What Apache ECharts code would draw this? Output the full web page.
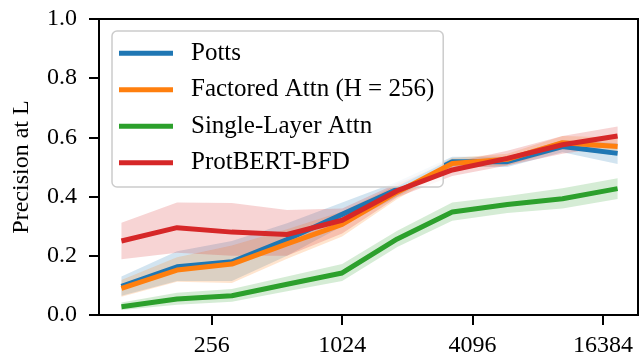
<!DOCTYPE html>
<html>
<head>
<meta charset="utf-8">
<script src="https://cdn.jsdelivr.net/npm/echarts@6/dist/echarts.min.js"></script>
<style>
  html, body { margin: 0; padding: 0; background: #fff; }
  #chart { width: 639px; height: 362px; }
</style>
</head>
<body>
<div id="chart"></div>
<script>
// number of contacts / training size on a log2 axis
const sizes = [98, 177, 317, 570, 1024, 1840, 3300, 5930, 10660, 19150];
const xTicks = [256, 1024, 4096, 16384];
const yTicks = [0, 0.2, 0.4, 0.6, 0.8, 1.0];

const names = ["Potts", "Factored Attn (H = 256)", "Single-Layer Attn", "ProtBERT-BFD"];
const colors = ["#1f77b4", "#ff7f0e", "#2ca02c", "#d62728"];
const bandFills = ["rgba(31,119,180,0.2)", "rgba(255,127,14,0.2)", "rgba(44,160,44,0.2)", "rgba(214,39,40,0.2)"];

const potts    = [0.097, 0.163, 0.180, 0.255, 0.340, 0.425, 0.518, 0.518, 0.569, 0.546];
const pottsLo  = [0.065, 0.115, 0.115, 0.200, 0.300, 0.400, 0.500, 0.500, 0.550, 0.510];
const pottsHi  = [0.130, 0.215, 0.250, 0.310, 0.380, 0.450, 0.535, 0.535, 0.590, 0.580];

const factored   = [0.090, 0.152, 0.172, 0.240, 0.306, 0.415, 0.512, 0.526, 0.582, 0.569];
const factoredLo = [0.062, 0.112, 0.108, 0.190, 0.265, 0.392, 0.495, 0.505, 0.560, 0.540];
const factoredHi = [0.118, 0.195, 0.235, 0.290, 0.350, 0.440, 0.530, 0.545, 0.605, 0.600];

const single   = [0.028, 0.054, 0.065, 0.104, 0.142, 0.257, 0.348, 0.373, 0.393, 0.427];
const singleLo = [0.017, 0.035, 0.045, 0.080, 0.115, 0.230, 0.318, 0.345, 0.360, 0.392];
const singleHi = [0.042, 0.075, 0.088, 0.130, 0.172, 0.285, 0.380, 0.402, 0.428, 0.462];

const protbert   = [0.250, 0.295, 0.280, 0.272, 0.320, 0.420, 0.490, 0.529, 0.575, 0.605];
const protbertLo = [0.188, 0.210, 0.200, 0.200, 0.275, 0.398, 0.470, 0.505, 0.545, 0.572];
const protbertHi = [0.312, 0.380, 0.378, 0.355, 0.360, 0.445, 0.515, 0.555, 0.605, 0.637];

const means = [potts, factored, single, protbert];
const lows = [pottsLo, factoredLo, singleLo, protbertLo];
const highs = [pottsHi, factoredHi, singleHi, protbertHi];

const FONT = "'Liberation Serif', 'Times New Roman', serif";

function bandSeries(i) {
  const lo = lows[i], hi = highs[i];
  return {
    name: names[i] + " band",
    type: "custom",
    silent: true,
    z: 1,
    data: sizes.map((x, k) => [x, lo[k], hi[k]]),
    encode: { x: 0, y: [1, 2] },
    renderItem(params, api) {
      if (params.dataIndex !== 0) return;
      const top = sizes.map((x, k) => api.coord([x, hi[k]]));
      const bottom = sizes.map((x, k) => api.coord([x, lo[k]])).reverse();
      return {
        type: "polygon",
        shape: { points: top.concat(bottom) },
        style: { fill: bandFills[i], stroke: null },
      };
    },
  };
}

function lineSeries(i) {
  return {
    name: names[i],
    type: "line",
    z: 3 + i,
    symbol: "none",
    showSymbol: false,
    data: sizes.map((x, k) => [x, means[i][k]]),
    lineStyle: { width: 5, color: colors[i], join: "round" },
    itemStyle: { color: colors[i] },
  };
}

const chart = echarts.init(document.getElementById("chart"), null, { renderer: "canvas" });

chart.setOption({
  animation: false,
  grid: {
    left: 99, right: 1, top: 19, bottom: 47,
    show: true, borderColor: "#000", borderWidth: 2, backgroundColor: "transparent",
  },
  legend: {
    data: names,
    orient: "vertical",
    left: 112,
    top: 31,
    icon: "rect",
    itemWidth: 54,
    itemHeight: 5,
    itemGap: 8,
    textStyle: { fontFamily: FONT, fontSize: 25, color: "#000", lineHeight: 28.5, padding: [0, 0, 0, 13] },
    backgroundColor: "rgba(255,255,255,0.8)",
    borderColor: "#cccccc",
    borderWidth: 1.5,
    borderRadius: 5,
    padding: [8, 9, 10, 7],
  },
  xAxis: {
    type: "log",
    logBase: 2,
    min: 77.2,
    max: 23790,
    axisLine: { show: true, lineStyle: { color: "#000", width: 2 } },
    axisTick: { show: true, length: 10, lineStyle: { color: "#000", width: 2 }, customValues: xTicks },
    axisLabel: {
      customValues: xTicks,
      fontFamily: FONT, fontSize: 24, color: "#000", margin: 19,
      formatter: (v) => String(Math.round(v)),
    },
    splitLine: { show: false },
  },
  yAxis: {
    type: "value",
    min: 0,
    max: 1,
    interval: 0.2,
    name: "Precision at L",
    nameLocation: "middle",
    nameGap: 65,
    nameTextStyle: { fontFamily: FONT, fontSize: 24, color: "#000" },
    axisLine: { show: true, lineStyle: { color: "#000", width: 2 } },
    axisTick: { show: true, length: 10, lineStyle: { color: "#000", width: 2 }, customValues: yTicks },
    axisLabel: {
      fontFamily: FONT, fontSize: 24, color: "#000", margin: 22,
      formatter: (v) => v.toFixed(1),
    },
    splitLine: { show: false },
  },
  series: [0, 1, 2, 3].map(bandSeries).concat([0, 1, 2, 3].map(lineSeries)),
});
</script>
</body>
</html>
